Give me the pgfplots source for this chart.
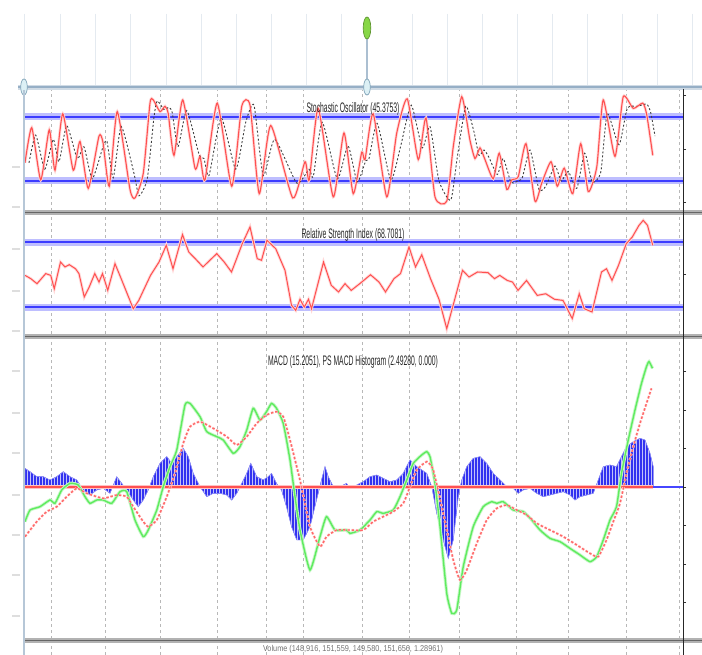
\documentclass[border=0pt]{standalone}
\usepackage{pgfplots}
\pgfplotsset{compat=1.18}
\usepackage{pgfplotstable}
\usepackage{fontspec}
\setmainfont{Liberation Sans}
\usetikzlibrary{patterns}

\definecolor{kred}{RGB}{255,80,80}
\definecolor{bandcol}{RGB}{60,60,255}
\definecolor{bandhalo}{RGB}{190,190,255}
\definecolor{macdgreen}{RGB}{95,235,95}
\definecolor{sigred}{RGB}{255,105,105}
\definecolor{histblue}{RGB}{50,50,240}
\definecolor{zeroblue}{RGB}{70,70,255}
\definecolor{slider}{RGB}{150,175,198}
\definecolor{knob}{RGB}{220,240,245}
\definecolor{knobline}{RGB}{130,165,185}
\definecolor{knobgreen}{RGB}{135,215,70}
\definecolor{topgrid}{RGB}{228,234,240}

% Stochastic %K (trading day, value)
\pgfplotstableread{
d v
0.4 37
3.1 70
6.7 21
10.1 68
12.4 30
15.5 83
19.7 30
22.4 57
25.7 13
30.0 62
31.6 56
34.1 15
37.3 85
42.4 12
44.4 4
47.7 27
50.4 93
51.7 96
54.4 85
56.4 90
57.7 83
60.0 44
63.5 96
68.4 32
70.4 43
72.4 21
77.3 93
83.1 15
87.1 90
90.4 91
94.1 8
98.7 72
107.5 4
112.4 38
114.1 21
117.7 88
123.7 5
128.0 65
131.7 8
135.1 47
136.4 40
139.7 83
145.1 5
149.1 65
153.3 97
157.7 40
160.8 79
164.4 5
169.1 1
171.7 52
175.1 99
178.4 58
180.4 41
182.4 51
184.4 40
187.7 22
190.1 46
193.1 12
195.1 21
197.7 24
200.8 55
204.4 1
207.1 18
210.8 38
213.3 15
216.1 32
219.5 8
222.7 55
225.7 10
229.1 33
231.7 96
236.4 43
239.7 99
243.7 88
247.5 93
249.1 82
251.5 44
}\stochK

% Stochastic %D
\pgfplotstableread{
d v
2.0 37
4.7 63
8.3 31
11.7 59
14.0 38
17.1 72
21.3 41
24.0 52
27.3 22
31.6 52
33.2 57
35.7 23
38.9 71
44.0 27
46.0 6
49.3 22
52.0 80
53.3 95
56.0 87
58.0 89
59.3 84
61.6 52
65.1 86
70.0 45
72.0 41
74.0 25
78.9 79
84.7 31
88.7 75
92.0 91
95.7 25
100.3 59
109.1 18
114.0 31
115.7 24
119.3 75
125.3 22
129.6 53
133.3 19
136.7 39
138.0 41
141.3 74
146.7 21
150.7 53
154.9 91
159.3 51
162.4 71
166.0 20
170.7 2
173.3 42
176.7 90
180.0 66
182.0 44
184.0 49
186.0 42
189.3 26
191.7 41
194.7 19
196.7 19
199.3 23
202.4 49
206.0 12
208.7 15
212.4 34
214.9 20
217.7 29
221.1 13
224.3 46
227.3 19
230.7 28
233.3 83
238.0 54
241.3 88
245.3 90
249.1 92
250.7 84
252.4 62
}\stochD

% RSI
\pgfplotstableread{
d v
0.45 49.6
2.7 47.6
5.2 44.5
8.7 50.7
10.7 49.6
12.1 41.4
14.6 57.8
16.4 54.8
18.1 56.2
20.6 53.7
22.0 50.7
24.1 36.3
26.1 42.5
28.3 50.7
30.0 45.5
31.4 50.7
33.5 40.4
36.4 56.8
38.6 48.6
43.7 29.1
45.9 34.2
50.6 49.6
54.0 57.8
56.9 68.1
59.6 53.7
63.4 74.7
65.9 64.0
68.5 59.9
71.6 54.8
73.6 57.8
77.1 63.0
80.1 57.8
83.0 51.7
84.8 58.9
87.3 69.1
90.4 79.4
93.3 59.9
95.0 58.9
97.2 71.2
100.7 66.0
104.4 52.7
107.0 31.2
108.7 28.1
110.4 34.9
112.1 30.1
113.8 34.9
115.0 29.1
119.8 57.8
122.9 43.5
125.8 39.4
128.4 44.5
130.9 40.4
134.3 44.5
138.6 50.0
142.0 45.5
144.6 39.4
148.0 47.6
150.6 50.7
154.0 67.1
156.6 54.8
159.1 62.3
162.6 47.6
166.0 34.9
169.1 16.8
172.0 33.2
175.4 52.7
178.0 48.6
181.4 51.7
185.6 51.3
188.2 47.6
190.3 49.6
193.3 46.5
195.4 45.5
197.6 40.4
201.0 46.5
205.3 37.3
208.7 38.3
212.2 34.9
215.6 34.2
219.3 23.0
222.1 38.3
224.1 29.1
227.2 27.1
231.0 51.7
233.0 53.7
235.2 46.5
237.8 55.8
240.9 69.1
243.3 73.2
246.0 80.4
247.7 83.5
249.4 80.4
251.5 68.1
}\rsi

% MACD line
\pgfplotstableread{
d v
0.4 -4.50
2.4 -3.00
6.4 -2.56
10.4 -1.69
12.4 -2.12
15.1 -0.39
18.4 0.47
21.7 0.26
24.4 -1.26
26.4 -2.12
29.1 -1.69
31.7 -1.69
35.1 -2.12
38.4 -0.61
41.1 -0.61
44.4 -4.29
47.7 -6.45
49.7 -5.59
53.1 -3.00
55.7 0.04
58.4 2.64
61.1 4.80
64.4 10.65
66.4 10.86
70.4 9.13
73.1 7.19
77.1 6.54
79.7 6.10
83.7 4.37
86.4 5.24
89.1 7.40
91.7 10.22
94.4 8.70
97.0 9.78
99.0 10.86
101.0 10.22
103.7 8.27
106.4 3.51
108.4 -1.26
110.4 -5.59
114.4 -10.78
118.4 -6.45
121.0 -3.85
124.4 -5.59
129.0 -5.59
130.4 -6.02
134.4 -5.59
138.4 -4.29
141.1 -3.20
143.7 -3.42
147.7 -2.99
150.4 -1.26
153.1 0.91
155.7 3.07
159.1 4.16
161.1 4.59
162.4 3.94
164.4 0.47
166.4 -5.15
169.1 -13.81
171.1 -16.41
173.1 -15.97
175.7 -10.35
179.7 -5.15
183.7 -2.56
187.1 -1.91
189.1 -2.12
191.7 -1.91
195.7 -2.99
199.7 -3.20
203.1 -4.29
206.4 -5.59
210.4 -6.67
214.4 -7.10
218.4 -7.97
222.4 -8.83
226.4 -9.70
229.1 -9.05
231.7 -6.88
234.4 -4.29
237.0 -2.56
239.0 1.77
241.7 6.10
244.4 10.00
247.0 13.46
249.0 15.63
250.0 16.28
251.4 15.41
}\macd

% signal line
\pgfplotstableread{
d v
0.4 -6.45
5.1 -4.50
9.1 -3.20
13.1 -2.56
17.1 -1.26
21.1 -0.17
25.1 -0.82
31.7 -1.47
37.1 -1.04
41.1 -1.26
43.7 -2.56
47.7 -4.50
49.7 -5.15
53.1 -4.29
57.1 -1.26
60.4 1.77
63.7 5.67
66.4 7.83
70.4 8.48
75.7 7.62
81.1 6.54
85.1 5.45
89.1 6.54
93.1 8.27
97.0 9.35
101.0 9.78
103.7 9.13
106.4 6.10
110.4 0.91
114.4 -5.15
118.4 -7.75
121.0 -6.45
125.0 -5.59
129.0 -5.59
130.4 -5.59
135.7 -5.59
139.7 -4.50
143.7 -3.85
147.7 -3.20
151.7 -2.12
154.4 0.04
157.1 2.21
161.1 3.29
163.7 2.21
167.7 -3.42
171.7 -9.48
174.4 -12.08
177.1 -10.78
181.1 -7.32
185.1 -4.29
189.1 -2.77
193.1 -2.34
197.1 -2.99
201.1 -3.64
205.1 -4.72
210.4 -5.59
215.7 -6.45
221.1 -7.53
226.4 -8.62
229.7 -9.05
233.0 -6.88
235.7 -4.50
238.4 -2.12
241.0 1.77
243.7 5.24
246.4 8.27
249.0 10.86
251.0 12.81
}\signal

% histogram
\pgfplotstableread{
d v
0.4 2.42
2.4 1.99
5.1 1.34
7.7 1.34
10.4 0.91
13.1 1.34
15.7 1.99
18.4 1.34
21.1 0.91
23.7 -0.39
26.4 -1.04
29.1 -0.39
31.7 -0.17
34.4 -0.82
37.1 1.34
39.1 0.47
41.1 -0.39
43.7 -1.69
45.7 -2.56
47.7 -1.69
49.7 -0.39
51.7 1.34
54.4 3.07
57.1 3.94
59.1 3.07
61.1 3.94
63.7 5.02
65.7 3.94
67.7 1.77
70.4 0.04
73.1 -1.26
75.7 -0.82
78.4 -0.82
81.1 -1.04
83.1 -1.69
85.1 -0.82
87.1 0.47
89.1 1.77
90.7 3.07
93.1 1.34
95.7 0.91
97.7 1.34
99.0 1.77
101.0 0.47
103.0 -0.39
105.0 -2.56
107.0 -5.15
109.1 -6.88
111.7 -6.88
114.4 -5.15
117.0 -1.69
119.0 0.91
120.4 2.64
121.7 1.34
123.7 0.04
126.4 0.04
129.0 0.47
130.4 -0.17
133.1 0.26
135.7 0.69
138.4 1.34
141.1 1.56
143.7 1.12
146.4 0.69
149.1 0.91
151.7 1.77
154.4 3.51
157.1 2.64
159.1 2.21
161.1 1.77
163.1 0.04
165.1 -3.42
167.7 -6.88
169.7 -9.26
171.7 -6.88
173.7 -1.26
175.1 0.91
177.1 2.64
179.7 3.72
182.4 3.94
185.1 3.07
187.7 1.77
190.4 0.91
193.1 0.04
195.7 -0.17
197.7 -0.82
199.7 -0.39
202.4 -0.17
205.1 -0.82
207.7 -1.26
210.4 -1.04
213.1 -0.82
215.7 -0.61
218.4 -1.04
220.4 -1.69
222.4 -1.26
225.1 -1.04
227.7 -0.82
229.7 0.91
231.7 2.64
234.4 2.86
237.0 2.64
239.0 3.94
241.0 5.24
243.7 5.89
246.4 6.32
248.4 6.10
250.4 4.37
251.7 2.64
}\hist

\pgfplotsset{
  panel/.style={
    scale only axis, anchor=south west, width=659pt,
    xmin=0, xmax=263.6,
    axis line style={draw=none},
    xtick={11.0,32.4,54.4,77.4,96.8,111.8,135.2,154.1,174.1,196.8,217.8,240.8,262},
    xticklabels={}, xmajorgrids,
    major grid style={dash pattern=on 3pt off 3pt, black!28, line width=0.5pt},
    xtick style={draw=none},
    ytick pos=right, yticklabels={}, tick align=outside,
    ytick style={black!80, line width=0.6pt}, major tick length=3pt,
  },
  band halo/.style={line width=7pt, color=bandhalo, forget plot},
  band core/.style={line width=2.4pt, color=bandcol, forget plot},
}

\begin{document}
\begin{tikzpicture}
\useasboundingbox (0pt,0pt) rectangle (702pt,655pt);
\fill[white] (0pt,0pt) rectangle (702pt,655pt);

% Stochastic oscillator
\begin{axis}[panel, at={(24pt,444pt)}, height=121pt,
  ymin=-8.2, ymax=105.3, ytick={0,50,100}]
  \addplot[band halo] coordinates {(0,80) (263.6,80)};
  \addplot[band core] coordinates {(0,80) (263.6,80)};
  \addplot[band halo] coordinates {(0,20) (263.6,20)};
  \addplot[band core] coordinates {(0,20) (263.6,20)};
  \addplot[kred!22, line width=2.8pt, smooth, tension=0.35] table {\stochK};
  \addplot[black!75, line width=0.9pt, dash pattern=on 2pt off 2pt, smooth, tension=0.35] table {\stochD};
  \addplot[kred, line width=1.1pt, smooth, tension=0.35] table {\stochK};
\end{axis}

% RSI
\begin{axis}[panel, at={(24pt,321pt)}, height=120pt,
  ymin=13.54, ymax=87.39, ytick={50}]
  \addplot[band halo] coordinates {(0,70) (263.6,70)};
  \addplot[band core] coordinates {(0,70) (263.6,70)};
  \addplot[band halo] coordinates {(0,30) (263.6,30)};
  \addplot[band core] coordinates {(0,30) (263.6,30)};
  \addplot[kred!22, line width=2.8pt] table {\rsi};
  \addplot[kred, line width=1pt] table {\rsi};
\end{axis}

% MACD
\begin{axis}[panel, at={(24pt,16pt)}, height=301pt,
  ymin=-19.74, ymax=19.35, ytick={-15,-10,...,15}]
  \addplot[fill=histblue, draw=histblue!60, line width=0.4pt,
    postaction={pattern=vertical lines, pattern color=white!70!histblue}] table {\hist} \closedcycle;
  \addplot[zeroblue, line width=2.2pt] coordinates {(0,0) (263.6,0)};
  \addplot[kred!35, line width=4pt] coordinates {(0,0) (251.7,0)};
  \addplot[kred, line width=1.6pt] coordinates {(0,0) (251.7,0)};
  \addplot[macdgreen!35, line width=3.2pt, smooth, tension=0.3] table {\macd};
  \addplot[macdgreen, line width=1.4pt, smooth, tension=0.3] table {\macd};
  \addplot[sigred!30, line width=2.6pt, dash pattern=on 2.5pt off 1.8pt, smooth, tension=0.3] table {\signal};
  \addplot[sigred, line width=1.4pt, dash pattern=on 2.5pt off 1.8pt, smooth, tension=0.3] table {\signal};
\end{axis}

% bottom sliver of the next panel
\begin{axis}[panel, at={(24pt,0pt)}, height=13pt, ymin=0, ymax=1, ytick=\empty]
\end{axis}

% chart frame, slider and titles (pixel coordinates, y downwards)
\begin{scope}[x=1pt, y=-1pt, shift={(0pt,655pt)}]
  \foreach \gx in {24.6,60,95,130,166,201,236,271,306,341,412,447,482,517,552,587,622,657,692}
    \draw[topgrid, line width=0.7pt] (\gx,14) -- (\gx,85);
  \fill[slider!45] (18,84.6) rectangle (702,90);
  \draw[slider, line width=1.6pt] (18,87.3) -- (702,87.3);
  \draw[slider!80, line width=1.2pt] (367,30) -- (367,87);
  \draw[knobline, fill=knob, line width=0.7pt] (24,87) ellipse (3.3pt and 8pt);
  \draw[knobline, fill=knob, line width=0.7pt] (367,87) ellipse (3.3pt and 8pt);
  \draw[knobgreen!70!black, fill=knobgreen, line width=0.7pt] (367,28) ellipse (3.8pt and 11pt);
  % panel separators
  \foreach \sy in {212.5,336.5,640.5} {
    \draw[black!30, line width=4.5pt] (24,\sy) -- (702,\sy);
    \draw[black!60, line width=1.6pt] (24,\sy) -- (702,\sy);
  }
  % borders
  \draw[slider!70, line width=1.8pt] (24,90) -- (24,655);
  \draw[black!85, line width=1.2pt] (683.5,89) -- (683.5,655);
  % faint left-hand value labels
  \foreach \ly in {167,207,249,291,331,371,413,453,495,535,575,616}
    \draw[black!13, line width=1.6pt] (12,\ly) -- (20,\ly);
  % titles
  \node[text=black!85, inner sep=0pt] at (353,109)
    {\resizebox{93pt}{10pt}{\fontsize{11}{12}\selectfont Stochastic Oscillator (45.3753)}};
  \node[text=black!85, inner sep=0pt] at (353,235)
    {\resizebox{103pt}{10pt}{\fontsize{11}{12}\selectfont Relative Strength Index (68.7081)}};
  \node[text=black!85, inner sep=0pt] at (353,362)
    {\resizebox{170pt}{10pt}{\fontsize{11}{12}\selectfont MACD (15.2051), PS MACD Histogram (2.49280, 0.000)}};
  \node[text=black!55, inner sep=0pt] at (353,649.3)
    {\resizebox{180pt}{\height}{\fontsize{8.5}{9}\selectfont Volume (148,916, 151,559, 149,580, 151,656, 1.28961)}};
\end{scope}
\end{tikzpicture}
\end{document}
